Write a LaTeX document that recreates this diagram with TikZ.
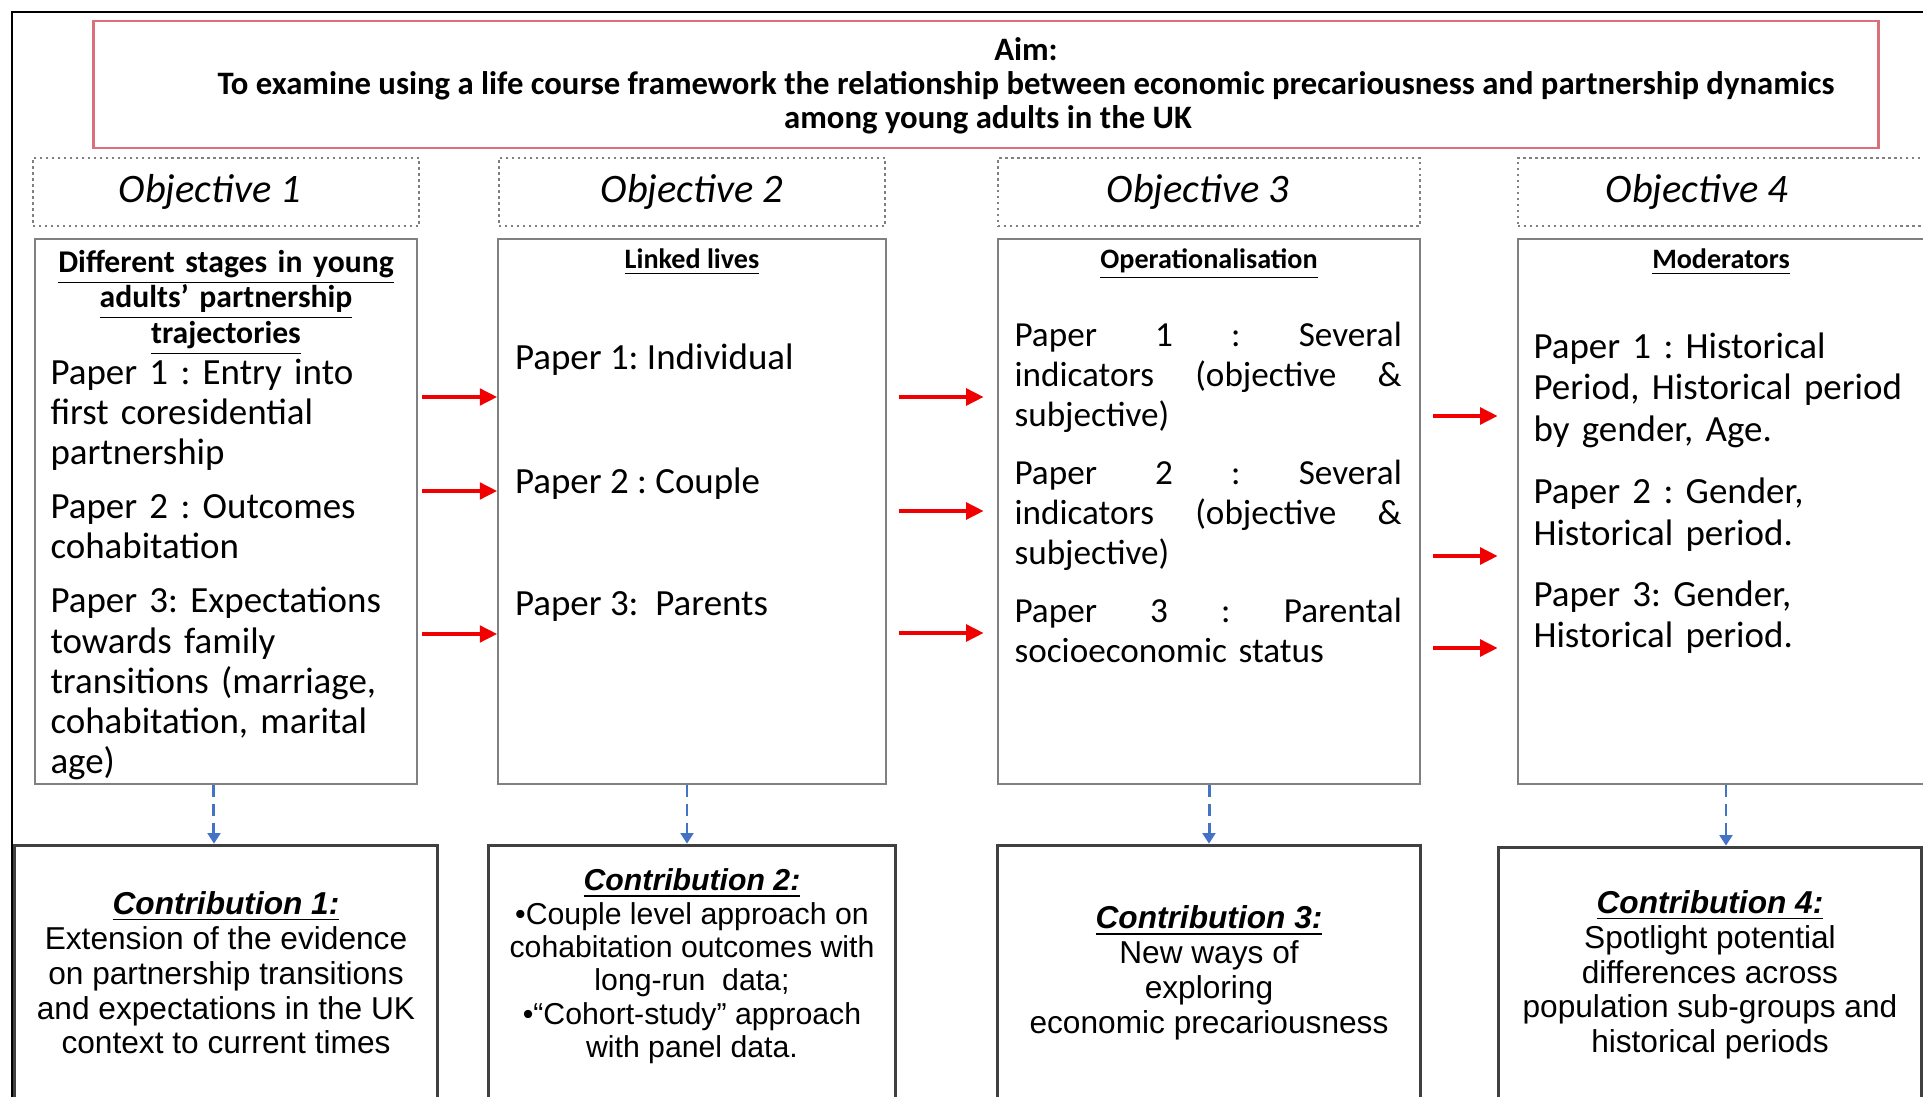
\documentclass[tikz,border=0pt]{standalone}
\usepackage{fontspec}
\setmainfont{Carlito}
\newfontfamily\arialfont{Liberation Sans}
\usetikzlibrary{arrows.meta, positioning}
\frenchspacing
\definecolor{aimred}{HTML}{D9707A}
\definecolor{boxgray}{HTML}{808080}
\definecolor{contribgray}{HTML}{404040}
\definecolor{flowred}{HTML}{F00000}
\definecolor{linkblue}{HTML}{4472C4}
\newcommand{\hd}[1]{\underline{\textbf{#1}}}
\newcommand{\ctitle}[1]{\underline{\textbf{\textit{#1}}}}

\begin{document}
\begin{tikzpicture}[
  x=0.01cm, y=-0.01cm,
  every node/.style={inner sep=0pt},
  aimbox/.style={draw=aimred, line width=0.6pt, minimum width=17.84cm, minimum height=1.27cm},
  aimtxt/.style={font=\fontsize{9.3}{9.7}\selectfont\bfseries, align=center},
  objbox/.style={draw=boxgray, densely dotted, line width=0.7pt, minimum height=0.68cm, minimum width=#1},
  objtxt/.style={font=\fontsize{11.5}{13}\selectfont\itshape},
  mainbox/.style={draw=boxgray, line width=0.6pt, minimum height=5.44cm, minimum width=#1},
  headtxt/.style={font=\fontsize{8}{10}\selectfont, anchor=base},
  bodytxt/.style={font=\fontsize{10.5}{11.7}\selectfont, anchor=base west},
  contrib/.style={draw=contribgray, line width=0.9pt, minimum height=2.55cm, minimum width=#1, align=center, font=\arialfont\fontsize{9}{9.9}\selectfont},
  flow/.style={-{Triangle[length=5pt, width=4.6pt]}, flowred, line width=1.3pt},
  link/.style={-{Triangle[length=3pt, width=3.6pt]}, linkblue, line width=0.85pt, dash pattern=on 3.4pt off 2pt},
]
\useasboundingbox (0,0) rectangle (1923,1097);
\draw[black, line width=0.8pt] (12,12) rectangle (1960,1130);

% aim
\node[aimbox] (aim) at (986,84.5) {};
\node[aimtxt] (aimtop) at (1026,69) {Aim:\\To examine using a life course framework the relationship between economic precariousness and partnership dynamics};
\node[aimtxt] (aimend) at (988,120) {among young adults in the UK};

% objective headers
\node[objbox=3.86cm] (ob1) at (226,192) {};
\node[objbox=3.86cm] (ob2) at (692,192) {};
\node[objbox=4.22cm] (ob3) at (1209,192) {};
\node[objbox=4.42cm] (ob4) at (1739,192) {};
\node[objtxt] (ob1t) at ([xshift=-1.6mm]ob1.center) {Objective 1};
\node[objtxt] (ob2t) at (ob2.center) {Objective 2};
\node[objtxt] (ob3t) at ([xshift=-1.1mm]ob3.center) {Objective 3};
\node[objtxt] (ob4t) at ([xshift=-4.2mm]ob4.center) {Objective 4};

% main boxes
\node[mainbox=3.82cm, below=1.1mm of ob1] (b1) {};
\node[mainbox=3.87cm, below=1.1mm of ob2] (b2) {};
\node[mainbox=4.22cm, below=1.1mm of ob3] (b3) {};
\node[mainbox=4.42cm, below=1.1mm of ob4] (b4) {};

% box 1
\node[headtxt, font=\fontsize{9}{10.1}\selectfont, text width=3.7cm, align=center] (b1h) at ([yshift=-3.4mm]b1.north)
  {\hd{Different stages in young}\\\hd{adults' partnership}\\\hd{trajectories}};
\node[bodytxt, font=\fontsize{10.5}{11.4}\selectfont, text width=3.64cm, align=left] (b1p) at ([xshift=1.6mm, yshift=-14.6mm]b1.north west)
  {Paper 1 : Entry into\\first coresidential\\partnership\\[4pt]
   Paper 2 : Outcomes\\cohabitation\\[4pt]
   Paper 3: Expectations\\towards family\\transitions (marriage,\\cohabitation, marital\\age)};

% box 2
\node[headtxt] (b2h) at ([yshift=-3mm]b2.north) {\hd{Linked lives}};
\node[bodytxt] (b2p1) at ([xshift=1.7mm, yshift=-13.1mm]b2.north west) {Paper 1: Individual};
\node[bodytxt] (b2p2) at ([xshift=1.7mm, yshift=-25.5mm]b2.north west) {Paper 2 : Couple};
\node[bodytxt] (b2p3) at ([xshift=1.7mm, yshift=-37.7mm]b2.north west) {Paper 3:\ \ Parents};

% box 3
\node[headtxt] (b3h) at ([yshift=-3mm]b3.north) {\hd{Operationalisation}};
\node[bodytxt, font=\fontsize{10}{11.4}\selectfont, text width=3.87cm, align=left] (b3p) at ([xshift=1.7mm, yshift=-10.8mm]b3.north west)
  {Paper\hfill 1\hfill :\hfill Several\\indicators\hfill (objective\hfill \&\\subjective)\\[5pt]
   Paper\hfill 2\hfill :\hfill Several\\indicators\hfill (objective\hfill \&\\subjective)\\[5pt]
   Paper\hfill 3\hfill :\hfill Parental\\socioeconomic status};

% box 4
\node[headtxt] (b4h) at ([xshift=-1.8mm, yshift=-3mm]b4.north) {\hd{Moderators}};
\node[bodytxt, font=\fontsize{10.5}{11.8}\selectfont, text width=3.9cm, align=left] (b4p) at ([xshift=1.6mm, yshift=-12mm]b4.north west)
  {Paper 1 : Historical\\Period, Historical period\\by gender, Age.\\[6pt]
   Paper 2 : Gender,\\Historical period.\\[5.5pt]
   Paper 3: Gender,\\Historical period.};

% contributions
\node[contrib=4.22cm, below=5.9mm of b1] (c1)
  {\ctitle{Contribution 1:}\\Extension of the evidence\\on partnership transitions\\and expectations in the UK\\context to current times};
\node[contrib=4.07cm, below=5.9mm of b2, font=\arialfont\fontsize{8.6}{9.5}\selectfont] (c2)
  {\ctitle{Contribution 2:}\\•Couple level approach on\\cohabitation outcomes with\\long-run\ \ data;\\•“Cohort-study” approach\\with panel data.\\[-4pt]};
\node[contrib=4.22cm, below=5.9mm of b3] (c3)
  {\ctitle{Contribution 3:}\\New ways of\\exploring\\economic precariousness};
\node[contrib=4.22cm, below=6.1mm of b4, xshift=-2.9mm] (c4)
  {\ctitle{Contribution 4:}\\Spotlight potential\\differences across\\population sub-groups and\\historical periods};

% red arrows between boxes
\draw[flow, shorten <=0.4mm] (b1.east |- 0,397) -- (b2.west |- 0,397);
\draw[flow, shorten <=0.4mm] (b1.east |- 0,491) -- (b2.west |- 0,491);
\draw[flow, shorten <=0.4mm] (b1.east |- 0,634) -- (b2.west |- 0,634);
\draw[flow, shorten <=1.2mm, shorten >=1.3mm] (b2.east |- 0,397) -- (b3.west |- 0,397);
\draw[flow, shorten <=1.2mm, shorten >=1.3mm] (b2.east |- 0,511) -- (b3.west |- 0,511);
\draw[flow, shorten <=1.2mm, shorten >=1.3mm] (b2.east |- 0,633) -- (b3.west |- 0,633);
\draw[flow, shorten <=1.2mm, shorten >=1.9mm] (b3.east |- 0,416) -- (b4.west |- 0,416);
\draw[flow, shorten <=1.2mm, shorten >=1.9mm] (b3.east |- 0,556) -- (b4.west |- 0,556);
\draw[flow, shorten <=1.2mm, shorten >=1.9mm] (b3.east |- 0,648) -- (b4.west |- 0,648);

% dashed links down to contributions
\draw[link] ([xshift=-1.2mm]b1.south) -- ([xshift=-1.2mm]b1.south |- c1.north);
\draw[link] ([xshift=-0.5mm]b2.south) -- ([xshift=-0.5mm]b2.south |- c2.north);
\draw[link] (b3.south) -- (b3.south |- c3.north);
\draw[link] ([xshift=-1.3mm]b4.south) -- ([xshift=-1.3mm]b4.south |- c4.north);
\end{tikzpicture}
\end{document}
